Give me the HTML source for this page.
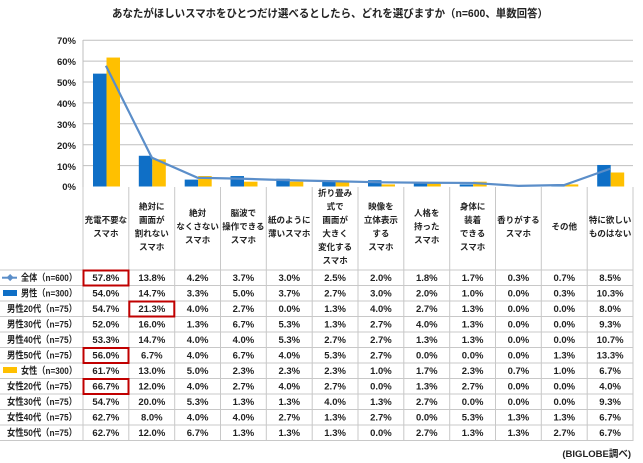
<!DOCTYPE html>
<html><head><meta charset="utf-8"><style>
html,body{margin:0;padding:0;background:#fff;}
svg{display:block;font-family:"Liberation Sans","Noto Sans CJK JP",sans-serif;font-weight:bold;}
</style></head><body>
<svg width="643" height="463" viewBox="0 0 643 463" xmlns="http://www.w3.org/2000/svg">
<text x="330" y="17" font-size="11" text-anchor="middle" fill="#222" textLength="436" lengthAdjust="spacingAndGlyphs">あなたがほしいスマホをひとつだけ選べるとしたら、どれを選びますか（n=600、単数回答）</text>
<g stroke="#bfbfbf" stroke-width="1">
<line x1="83" x2="633" y1="40.2" y2="40.2"/><line x1="83" x2="633" y1="61.1" y2="61.1"/><line x1="83" x2="633" y1="82" y2="82"/><line x1="83" x2="633" y1="102.9" y2="102.9"/><line x1="83" x2="633" y1="123.8" y2="123.8"/><line x1="83" x2="633" y1="144.7" y2="144.7"/><line x1="83" x2="633" y1="165.6" y2="165.6"/><line x1="83" y1="40" x2="83" y2="187"/>
</g>
<g font-size="9.5" fill="#222" text-anchor="end">
<text x="76" y="44">70%</text><text x="76" y="65">60%</text><text x="76" y="86">50%</text><text x="76" y="107">40%</text><text x="76" y="128">30%</text><text x="76" y="149">20%</text><text x="76" y="170">10%</text><text x="76" y="190">0%</text>
</g>
<g transform="translate(0,186.5) scale(1,-2.09)">
<g fill="#0f6fc6">
<rect x="93" y="0" width="13.5" height="54"/><rect x="138.8" y="0" width="13.5" height="14.7"/><rect x="184.7" y="0" width="13.5" height="3.3"/><rect x="230.5" y="0" width="13.5" height="5"/><rect x="276.3" y="0" width="13.5" height="3.7"/><rect x="322.2" y="0" width="13.5" height="2.7"/><rect x="368" y="0" width="13.5" height="3"/><rect x="413.8" y="0" width="13.5" height="2"/><rect x="459.7" y="0" width="13.5" height="1"/><rect x="551.3" y="0" width="13.5" height="0.3"/><rect x="597.2" y="0" width="13.5" height="10.3"/>
</g>
<g fill="#ffc000">
<rect x="106.5" y="0" width="13.5" height="61.7"/><rect x="152.3" y="0" width="13.5" height="13"/><rect x="198.2" y="0" width="13.5" height="5"/><rect x="244" y="0" width="13.5" height="2.3"/><rect x="289.8" y="0" width="13.5" height="2.3"/><rect x="335.7" y="0" width="13.5" height="2.3"/><rect x="381.5" y="0" width="13.5" height="1"/><rect x="427.3" y="0" width="13.5" height="1.7"/><rect x="473.2" y="0" width="13.5" height="2.3"/><rect x="519" y="0" width="13.5" height="0.7"/><rect x="564.8" y="0" width="13.5" height="1"/><rect x="610.7" y="0" width="13.5" height="6.7"/>
</g>
<polyline fill="none" stroke="#5b8ec9" stroke-width="2.2" vector-effect="non-scaling-stroke" points="105.9,57.8 151.8,13.8 197.6,4.2 243.4,3.7 289.3,3.0 335.1,2.5 380.9,2.0 426.8,1.8 472.6,1.7 518.4,0.3 564.3,0.7 610.1,8.5"/>
</g>
<g stroke="#c8c8c8" stroke-width="1">
<line x1="83" x2="83" y1="187" y2="441"/><line x1="128.8" x2="128.8" y1="187" y2="441"/><line x1="174.7" x2="174.7" y1="187" y2="441"/><line x1="220.5" x2="220.5" y1="187" y2="441"/><line x1="266.3" x2="266.3" y1="187" y2="441"/><line x1="312.2" x2="312.2" y1="187" y2="441"/><line x1="358" x2="358" y1="187" y2="441"/><line x1="403.8" x2="403.8" y1="187" y2="441"/><line x1="449.7" x2="449.7" y1="187" y2="441"/><line x1="495.5" x2="495.5" y1="187" y2="441"/><line x1="541.3" x2="541.3" y1="187" y2="441"/><line x1="587.2" x2="587.2" y1="187" y2="441"/><line x1="633" x2="633" y1="187" y2="441"/>
<line x1="0" x2="633" y1="270" y2="270"/><line x1="0" x2="633" y1="285.5" y2="285.5"/><line x1="0" x2="633" y1="301" y2="301"/><line x1="0" x2="633" y1="316.5" y2="316.5"/><line x1="0" x2="633" y1="332" y2="332"/><line x1="0" x2="633" y1="347.5" y2="347.5"/><line x1="0" x2="633" y1="363" y2="363"/><line x1="0" x2="633" y1="378.5" y2="378.5"/><line x1="0" x2="633" y1="394" y2="394"/><line x1="0" x2="633" y1="409.5" y2="409.5"/><line x1="0" x2="633" y1="425" y2="425"/><line x1="0" x2="633" y1="440.5" y2="440.5"/>
</g>
<g font-size="8.5" fill="#222" text-anchor="middle">
<text x="105.9" y="223">充電不要な</text><text x="105.9" y="236.5">スマホ</text>
<text x="151.8" y="209.5">絶対に</text><text x="151.8" y="223">画面が</text><text x="151.8" y="236.5">割れない</text><text x="151.8" y="250">スマホ</text>
<text x="197.6" y="216">絶対</text><text x="197.6" y="229.5">なくさない</text><text x="197.6" y="243">スマホ</text>
<text x="243.4" y="216">脳波で</text><text x="243.4" y="229.5">操作できる</text><text x="243.4" y="243">スマホ</text>
<text x="289.3" y="223">紙のように</text><text x="289.3" y="236.5">薄いスマホ</text>
<text x="335.1" y="196">折り畳み</text><text x="335.1" y="209.5">式で</text><text x="335.1" y="223">画面が</text><text x="335.1" y="236.5">大きく</text><text x="335.1" y="250">変化する</text><text x="335.1" y="263.5">スマホ</text>
<text x="380.9" y="209.5">映像を</text><text x="380.9" y="223">立体表示</text><text x="380.9" y="236.5">する</text><text x="380.9" y="250">スマホ</text>
<text x="426.8" y="216">人格を</text><text x="426.8" y="229.5">持った</text><text x="426.8" y="243">スマホ</text>
<text x="472.6" y="209.5">身体に</text><text x="472.6" y="223">装着</text><text x="472.6" y="236.5">できる</text><text x="472.6" y="250">スマホ</text>
<text x="518.4" y="223">香りがする</text><text x="518.4" y="236.5">スマホ</text>
<text x="564.3" y="229.5">その他</text>
<text x="610.1" y="223">特に欲しい</text><text x="610.1" y="236.5">ものはない</text>
</g>
<line x1="2" x2="17" y1="277.7" y2="277.7" stroke="#5b8ec9" stroke-width="2"/>
<rect x="7.5" y="275" width="5" height="5" fill="#5b8ec9" transform="rotate(45 10 277.7)"/>
<rect x="3" y="290" width="14" height="6" fill="#0f6fc6"/>
<rect x="3" y="367" width="14" height="6" fill="#ffc000"/>
<g font-size="9.5" fill="#222">
<text x="21" y="281" textLength="56" lengthAdjust="spacingAndGlyphs">全体（n=600）</text>
<text x="21" y="296.5" textLength="56" lengthAdjust="spacingAndGlyphs">男性（n=300）</text>
<text x="7" y="312" textLength="70" lengthAdjust="spacingAndGlyphs">男性20代（n=75）</text>
<text x="7" y="327.5" textLength="70" lengthAdjust="spacingAndGlyphs">男性30代（n=75）</text>
<text x="7" y="343" textLength="70" lengthAdjust="spacingAndGlyphs">男性40代（n=75）</text>
<text x="7" y="358.5" textLength="70" lengthAdjust="spacingAndGlyphs">男性50代（n=75）</text>
<text x="21" y="374" textLength="56" lengthAdjust="spacingAndGlyphs">女性（n=300）</text>
<text x="7" y="389.5" textLength="70" lengthAdjust="spacingAndGlyphs">女性20代（n=75）</text>
<text x="7" y="405" textLength="70" lengthAdjust="spacingAndGlyphs">女性30代（n=75）</text>
<text x="7" y="420.5" textLength="70" lengthAdjust="spacingAndGlyphs">女性40代（n=75）</text>
<text x="7" y="436" textLength="70" lengthAdjust="spacingAndGlyphs">女性50代（n=75）</text>
</g>
<g font-size="9.5" fill="#222" text-anchor="middle">
<g transform="translate(0,281)"><text x="105.9">57.8%</text><text x="151.8">13.8%</text><text x="197.6">4.2%</text><text x="243.4">3.7%</text><text x="289.3">3.0%</text><text x="335.1">2.5%</text><text x="380.9">2.0%</text><text x="426.8">1.8%</text><text x="472.6">1.7%</text><text x="518.4">0.3%</text><text x="564.3">0.7%</text><text x="610.1">8.5%</text></g>
<g transform="translate(0,296.5)"><text x="105.9">54.0%</text><text x="151.8">14.7%</text><text x="197.6">3.3%</text><text x="243.4">5.0%</text><text x="289.3">3.7%</text><text x="335.1">2.7%</text><text x="380.9">3.0%</text><text x="426.8">2.0%</text><text x="472.6">1.0%</text><text x="518.4">0.0%</text><text x="564.3">0.3%</text><text x="610.1">10.3%</text></g>
<g transform="translate(0,312)"><text x="105.9">54.7%</text><text x="151.8">21.3%</text><text x="197.6">4.0%</text><text x="243.4">2.7%</text><text x="289.3">0.0%</text><text x="335.1">1.3%</text><text x="380.9">4.0%</text><text x="426.8">2.7%</text><text x="472.6">1.3%</text><text x="518.4">0.0%</text><text x="564.3">0.0%</text><text x="610.1">8.0%</text></g>
<g transform="translate(0,327.5)"><text x="105.9">52.0%</text><text x="151.8">16.0%</text><text x="197.6">1.3%</text><text x="243.4">6.7%</text><text x="289.3">5.3%</text><text x="335.1">1.3%</text><text x="380.9">2.7%</text><text x="426.8">4.0%</text><text x="472.6">1.3%</text><text x="518.4">0.0%</text><text x="564.3">0.0%</text><text x="610.1">9.3%</text></g>
<g transform="translate(0,343)"><text x="105.9">53.3%</text><text x="151.8">14.7%</text><text x="197.6">4.0%</text><text x="243.4">4.0%</text><text x="289.3">5.3%</text><text x="335.1">2.7%</text><text x="380.9">2.7%</text><text x="426.8">1.3%</text><text x="472.6">1.3%</text><text x="518.4">0.0%</text><text x="564.3">0.0%</text><text x="610.1">10.7%</text></g>
<g transform="translate(0,358.5)"><text x="105.9">56.0%</text><text x="151.8">6.7%</text><text x="197.6">4.0%</text><text x="243.4">6.7%</text><text x="289.3">4.0%</text><text x="335.1">5.3%</text><text x="380.9">2.7%</text><text x="426.8">0.0%</text><text x="472.6">0.0%</text><text x="518.4">0.0%</text><text x="564.3">1.3%</text><text x="610.1">13.3%</text></g>
<g transform="translate(0,374)"><text x="105.9">61.7%</text><text x="151.8">13.0%</text><text x="197.6">5.0%</text><text x="243.4">2.3%</text><text x="289.3">2.3%</text><text x="335.1">2.3%</text><text x="380.9">1.0%</text><text x="426.8">1.7%</text><text x="472.6">2.3%</text><text x="518.4">0.7%</text><text x="564.3">1.0%</text><text x="610.1">6.7%</text></g>
<g transform="translate(0,389.5)"><text x="105.9">66.7%</text><text x="151.8">12.0%</text><text x="197.6">4.0%</text><text x="243.4">2.7%</text><text x="289.3">4.0%</text><text x="335.1">2.7%</text><text x="380.9">0.0%</text><text x="426.8">1.3%</text><text x="472.6">2.7%</text><text x="518.4">0.0%</text><text x="564.3">0.0%</text><text x="610.1">4.0%</text></g>
<g transform="translate(0,405)"><text x="105.9">54.7%</text><text x="151.8">20.0%</text><text x="197.6">5.3%</text><text x="243.4">1.3%</text><text x="289.3">1.3%</text><text x="335.1">4.0%</text><text x="380.9">1.3%</text><text x="426.8">2.7%</text><text x="472.6">0.0%</text><text x="518.4">0.0%</text><text x="564.3">0.0%</text><text x="610.1">9.3%</text></g>
<g transform="translate(0,420.5)"><text x="105.9">62.7%</text><text x="151.8">8.0%</text><text x="197.6">4.0%</text><text x="243.4">4.0%</text><text x="289.3">2.7%</text><text x="335.1">1.3%</text><text x="380.9">2.7%</text><text x="426.8">0.0%</text><text x="472.6">5.3%</text><text x="518.4">1.3%</text><text x="564.3">1.3%</text><text x="610.1">6.7%</text></g>
<g transform="translate(0,436)"><text x="105.9">62.7%</text><text x="151.8">12.0%</text><text x="197.6">6.7%</text><text x="243.4">1.3%</text><text x="289.3">1.3%</text><text x="335.1">1.3%</text><text x="380.9">0.0%</text><text x="426.8">2.7%</text><text x="472.6">1.3%</text><text x="518.4">1.3%</text><text x="564.3">2.7%</text><text x="610.1">6.7%</text></g>
</g>
<g fill="none" stroke="#c00000" stroke-width="2">
<rect x="83.5" y="270.5" width="45" height="15"/>
<rect x="129.3" y="301.5" width="45" height="15"/>
<rect x="83.5" y="348" width="45" height="15"/>
<rect x="83.5" y="379" width="45" height="15"/>
</g>
<text x="631" y="457" font-size="9.5" fill="#222" text-anchor="end">(BIGLOBE調べ)</text>
</svg>
</body></html>
